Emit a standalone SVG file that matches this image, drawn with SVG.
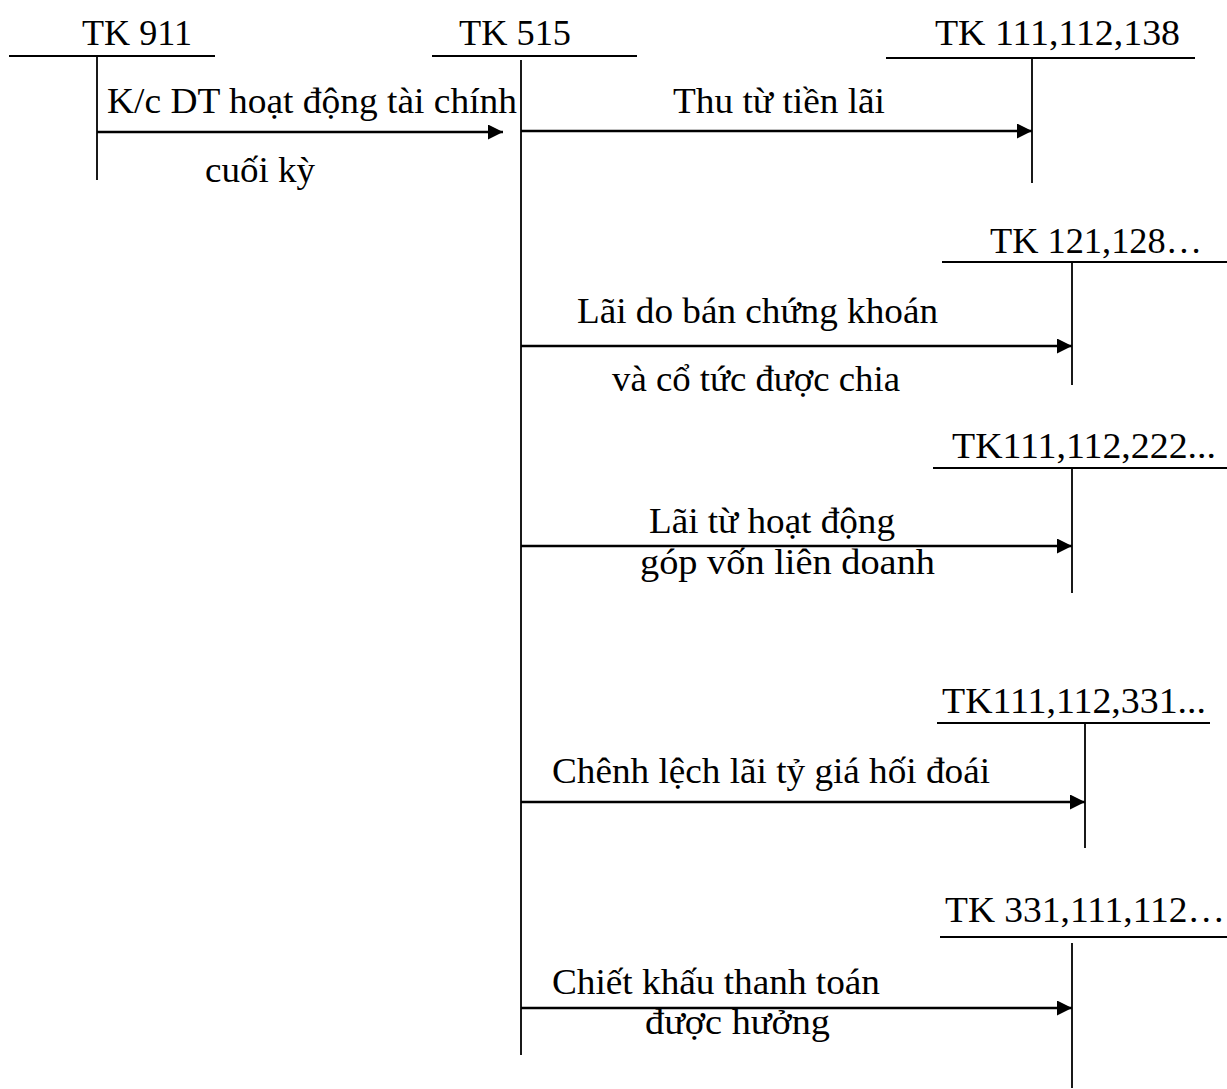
<svg xmlns="http://www.w3.org/2000/svg" width="1227" height="1089" viewBox="0 0 1227 1089">
<style>
text{font-family:"Liberation Serif","Times New Roman",serif;font-size:35px;fill:#000}
.lb{font-size:36px}
.ln{stroke:#000;stroke-width:1.8;fill:none}
.ar{stroke:#000;stroke-width:2.6;fill:none;marker-end:url(#ah)}
</style>
<defs>
<marker id="ah" markerUnits="userSpaceOnUse" markerWidth="16" markerHeight="16" refX="15" refY="7.5" orient="auto">
<path d="M0,0 L15,7.5 L0,15 z" fill="#000"/>
</marker>
</defs>
<rect width="1227" height="1089" fill="#fff"/>
<g id="tk911">
<text class="lb" x="82" y="45" textLength="110" lengthAdjust="spacingAndGlyphs">TK 911</text>
<line class="ln" x1="9" y1="56" x2="215" y2="56"/>
<line class="ln" x1="97" y1="56" x2="97" y2="180"/>
</g>
<g id="tk515">
<text class="lb" x="459" y="45" textLength="112" lengthAdjust="spacingAndGlyphs">TK 515</text>
<line class="ln" x1="432" y1="56" x2="637" y2="56"/>
<line class="ln" x1="521" y1="60" x2="521" y2="1055"/>
</g>
<g id="tk111_112_138">
<text class="lb" x="935" y="45" textLength="245" lengthAdjust="spacingAndGlyphs">TK 111,112,138</text>
<line class="ln" x1="886" y1="58" x2="1195" y2="58"/>
<line class="ln" x1="1032" y1="58" x2="1032" y2="183"/>
</g>
<g id="tk121_128">
<text class="lb" x="990" y="253" textLength="212" lengthAdjust="spacingAndGlyphs">TK 121,128…</text>
<line class="ln" x1="942" y1="262" x2="1227" y2="262"/>
<line class="ln" x1="1072" y1="262" x2="1072" y2="385"/>
</g>
<g id="tk111_112_222">
<text class="lb" x="952" y="458" textLength="264" lengthAdjust="spacingAndGlyphs">TK111,112,222...</text>
<line class="ln" x1="933" y1="468" x2="1227" y2="468"/>
<line class="ln" x1="1072" y1="468" x2="1072" y2="593"/>
</g>
<g id="tk111_112_331">
<text class="lb" x="942" y="713" textLength="264" lengthAdjust="spacingAndGlyphs">TK111,112,331...</text>
<line class="ln" x1="937" y1="723" x2="1210" y2="723"/>
<line class="ln" x1="1085" y1="723" x2="1085" y2="848"/>
</g>
<g id="tk331_111_112">
<text class="lb" x="945" y="922" textLength="280" lengthAdjust="spacingAndGlyphs">TK 331,111,112…</text>
<line class="ln" x1="940" y1="937" x2="1227" y2="937"/>
<line class="ln" x1="1072" y1="943" x2="1072" y2="1088"/>
</g>
<g id="connectors">
<line class="ar" x1="97" y1="132" x2="503" y2="132"/>
<text x="107" y="113" textLength="410" lengthAdjust="spacingAndGlyphs">K/c DT hoạt động tài chính</text>
<text x="205" y="182" textLength="110" lengthAdjust="spacingAndGlyphs">cuối kỳ</text>
<line class="ar" x1="521" y1="131" x2="1032" y2="131"/>
<text x="673" y="113" textLength="212" lengthAdjust="spacingAndGlyphs">Thu từ tiền lãi</text>
<line class="ar" x1="521" y1="346" x2="1072" y2="346"/>
<text x="577" y="323" textLength="361" lengthAdjust="spacingAndGlyphs">Lãi do bán chứng khoán</text>
<text x="612" y="391" textLength="288" lengthAdjust="spacingAndGlyphs">và cổ tức được chia</text>
<line class="ar" x1="521" y1="546" x2="1072" y2="546"/>
<text x="649" y="533" textLength="246" lengthAdjust="spacingAndGlyphs">Lãi từ hoạt động</text>
<text x="640" y="574" textLength="295" lengthAdjust="spacingAndGlyphs">góp vốn liên doanh</text>
<line class="ar" x1="521" y1="802" x2="1085" y2="802"/>
<text x="552" y="783" textLength="438" lengthAdjust="spacingAndGlyphs">Chênh lệch lãi tỷ giá hối đoái</text>
<line class="ar" x1="521" y1="1008" x2="1072" y2="1008"/>
<text x="552" y="994" textLength="328" lengthAdjust="spacingAndGlyphs">Chiết khấu thanh toán</text>
<text x="645" y="1034" textLength="185" lengthAdjust="spacingAndGlyphs">được hưởng</text>
</g>
</svg>
